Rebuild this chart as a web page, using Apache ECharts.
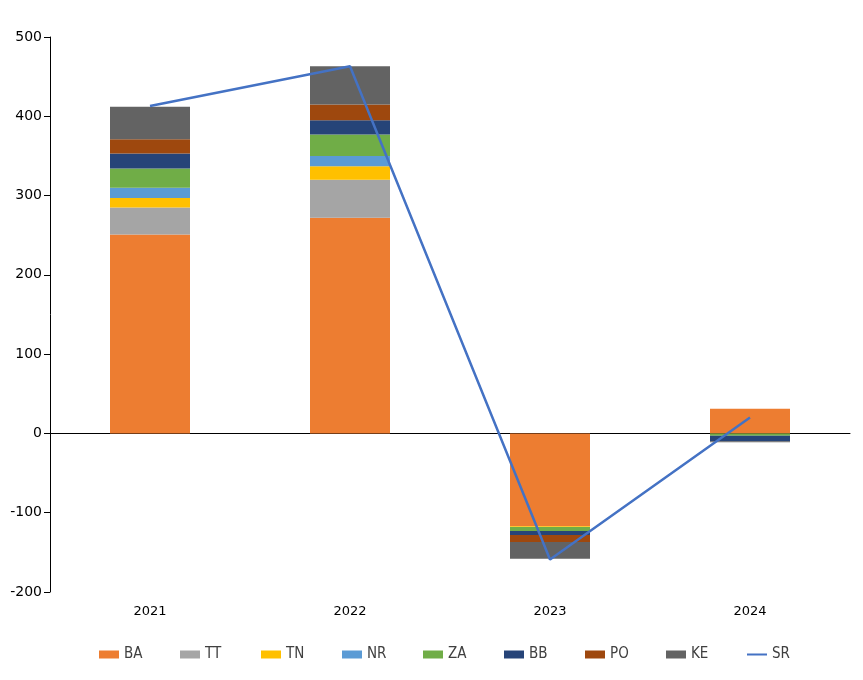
<!DOCTYPE html>
<html><head><meta charset="utf-8">
<script src="https://cdn.jsdelivr.net/npm/echarts@6/dist/echarts.min.js"></script>
<style>html,body{margin:0;padding:0;background:#fff}#c{width:863px;height:680px}</style>
</head><body><div id="c"></div>
<script>
const categories = ['2021','2022','2023','2024'];
const BA = [251, 272, -117, 31];
const TT = [34, 48, 0, 0];
const TN = [12, 17, -1, 0];
const NR = [13, 13, 0, 0];
const ZA = [24, 27, -5, -3];
const BB = [19, 18, -5, -7];
const PO = [18, 20, -9, 0];
const KE = [41, 48, -21, -1];
const SR = [413, 463, -159, 20];
const yTicks = {min: -200, max: 500, interval: 100};

const barSeries = [
  ['BA', BA, '#ED7D31'], ['TT', TT, '#A5A5A5'], ['TN', TN, '#FFC000'], ['NR', NR, '#5B9BD5'],
  ['ZA', ZA, '#70AD47'], ['BB', BB, '#264478'], ['PO', PO, '#9E480E'], ['KE', KE, '#636363']
].map(([name, data, color]) => ({
  name, type: 'bar', stack: 'total', data, barWidth: '40%', itemStyle: {color}, xAxisIndex: 0
}));

const legendNames = ['BA','TT','TN','NR','ZA','BB','PO','KE','SR'];
const lineIcon = 'path://M0,0 L0,0 Z M0,8 L0,8 Z M20,0 L20,0 Z M0,3 L20,3 L20,5 L0,5 Z';
const legendFont = "'Liberation Sans Narrow', 'DejaVu Sans Condensed', sans-serif";
const legends = legendNames.map((n, i) => ({
  top: 642, left: 94 + i * 81, itemWidth: 20, itemHeight: 8,
  textStyle: {fontFamily: legendFont, fontSize: 15, color: '#404040'},
  data: [n === 'SR' ? {name: n, icon: lineIcon} : {name: n, icon: 'rect'}]
}));

const chart = echarts.init(document.getElementById('c'));
chart.setOption({
  animation: false,
  textStyle: {fontFamily: 'Verdana, DejaVu Sans'},
  grid: {left: 50, right: 13, top: 37, bottom: 88},
  legend: legends,
  xAxis: [
    {type: 'category', data: categories, position: 'bottom',
     axisLine: {show: false, onZero: false}, axisTick: {show: false},
     axisLabel: {fontSize: 13, color: '#000', margin: 13}},
    {type: 'category', data: categories, position: 'bottom',
     axisLine: {show: true, onZero: true, lineStyle: {color: '#000', width: 1}},
     axisTick: {show: false}, axisLabel: {show: false}}
  ],
  yAxis: {
    type: 'value', min: yTicks.min, max: yTicks.max, interval: yTicks.interval,
    axisLine: {show: true, lineStyle: {color: '#000'}},
    axisTick: {show: true, length: 6, lineStyle: {color: '#000'}},
    splitLine: {show: false},
    axisLabel: {fontSize: 14, color: '#000', margin: 8}
  },
  series: barSeries.concat([{
    name: 'SR', type: 'line', data: SR, symbol: 'none', xAxisIndex: 0,
    lineStyle: {color: '#4472C4', width: 2.5}, itemStyle: {color: '#4472C4'}, z: 5
  }])
});
</script></body></html>
